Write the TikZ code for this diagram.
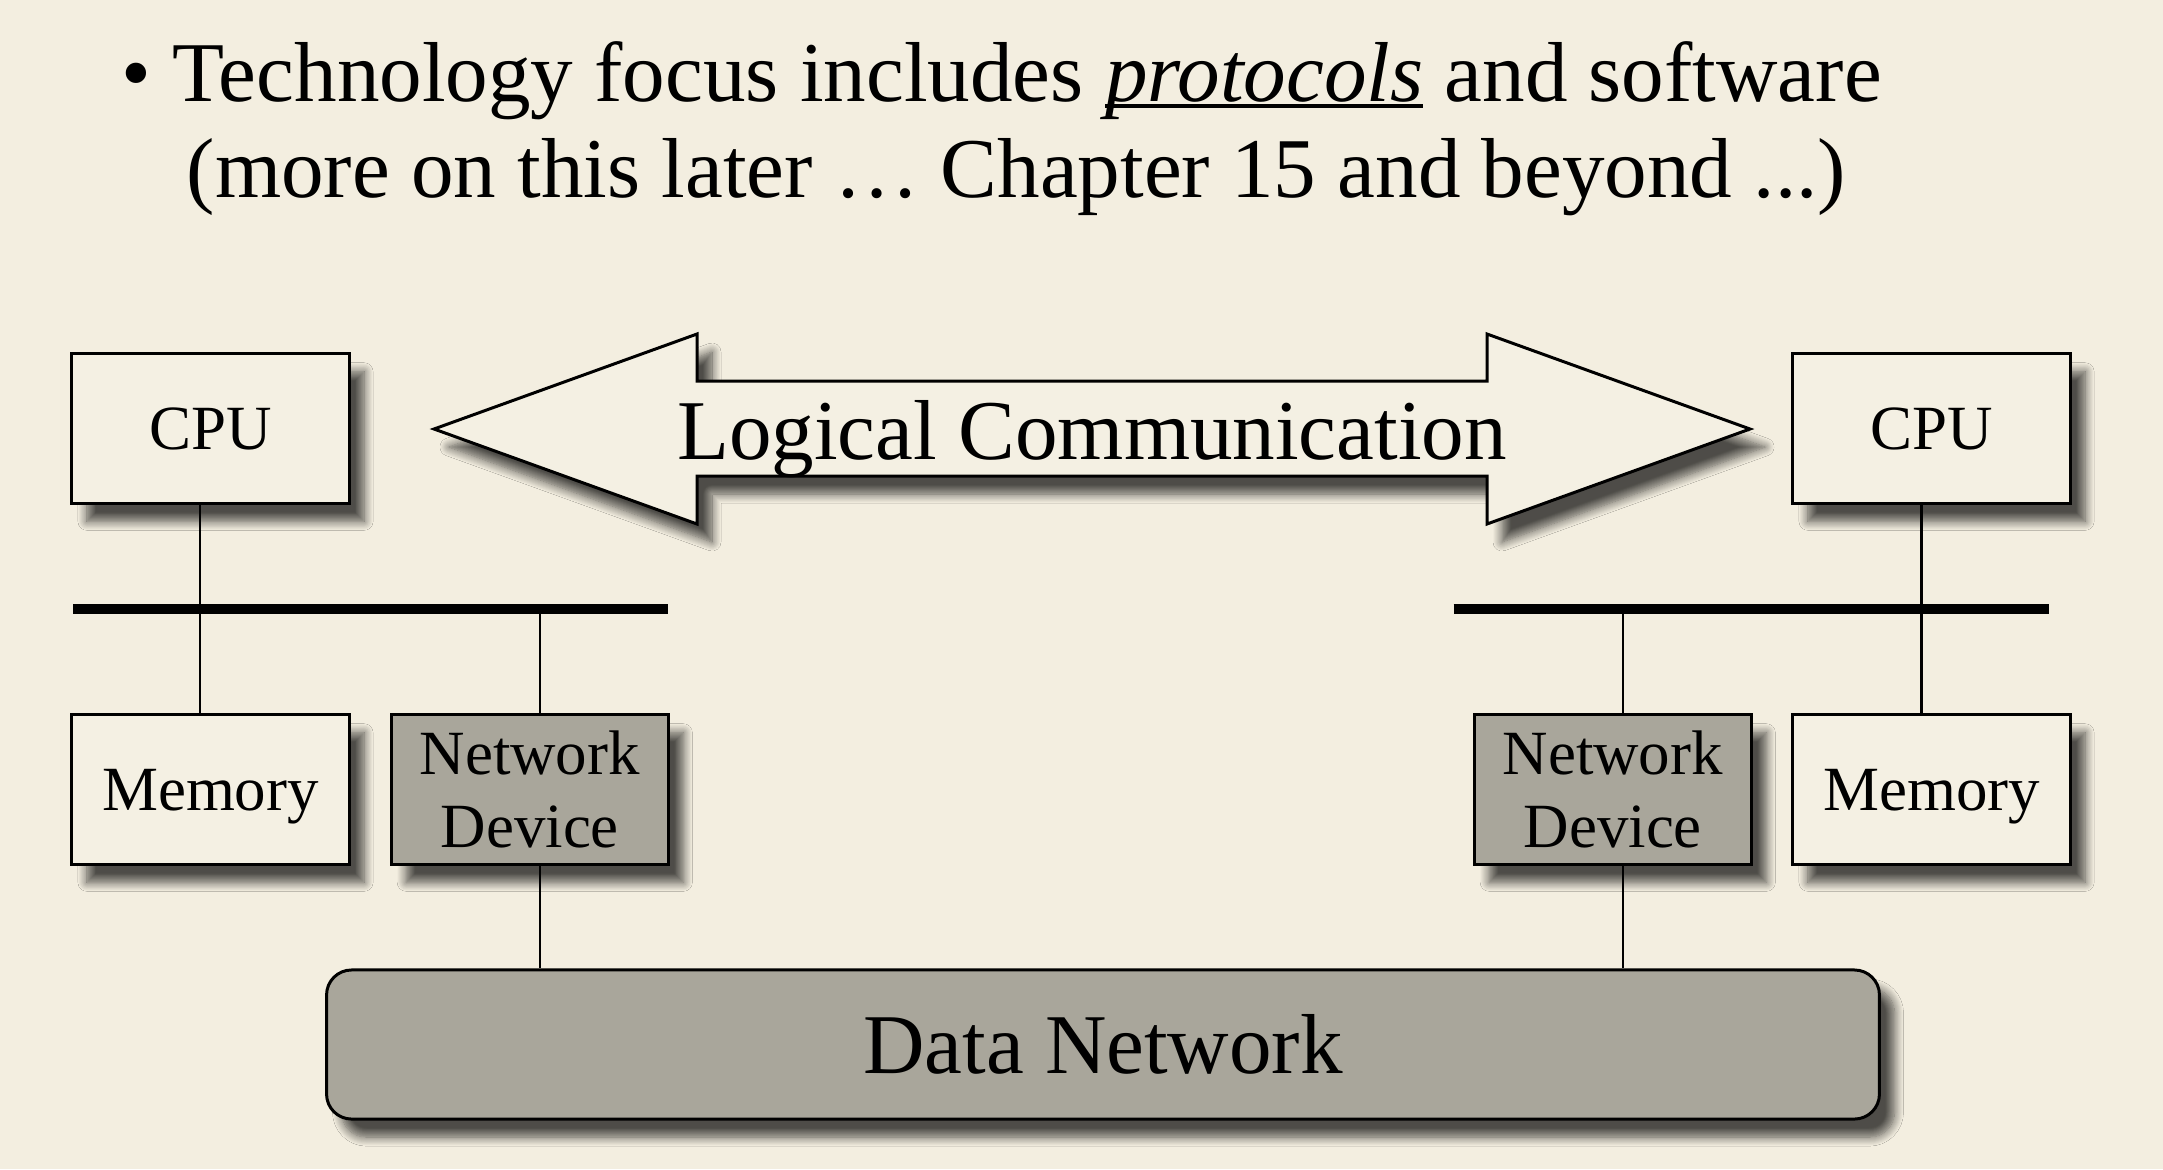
\documentclass[tikz,border=0pt]{standalone}
\usepackage{fontspec}
\setmainfont{Liberation Serif}
\usetikzlibrary{shadows.blur}
\definecolor{bg}{RGB}{243,238,224}
\definecolor{boxfill}{RGB}{244,240,227}
\definecolor{devfill}{RGB}{169,166,155}
\newcommand\myBig{\fontsize{24.2pt}{27.3pt}\selectfont}
\newcommand\mySmall{\fontsize{17.9pt}{20.8pt}\selectfont}
\newcommand\myul[1]{\setbox0\hbox{#1}\rlap{\rule[-0.085em]{\wd0}{0.045em}}\box0\relax}
\tikzset{
  shad/.style={blur shadow={shadow xshift=0.15cm, shadow yshift=-0.18cm, shadow blur radius=0.09cm, shadow opacity=68, shadow blur steps=10}},
  plainbox/.style={draw=black, line width=0.85pt, fill=boxfill, minimum width=2.77cm, minimum height=1.495cm, inner sep=0pt, text depth=0pt, align=center, font=\mySmall, shad},
  devbox/.style={plainbox, fill=devfill},
  netbox/.style={draw=black, line width=0.85pt, fill=devfill, rounded corners=0.25cm, minimum width=15.52cm, minimum height=1.49cm, inner sep=0pt, font=\myBig, shad},
  wire/.style={line width=0.6pt, draw=black},
  busline/.style={line width=2.85pt, draw=black},
  bigarrow/.style={draw=black, line width=0.85pt, fill=boxfill, line join=miter, shad},
}
\begin{document}
\begin{tikzpicture}[x=0.01cm, y=-0.01cm]
\fill[bg] (0,0) rectangle (2163,1169);
\useasboundingbox (0,0) rectangle (2163,1169);

% title
\node[anchor=base west, inner sep=0pt, font=\myBig] (t1) at (121,101) {• Technology focus includes \myul{\textit{protocols}} and software};
\node[anchor=base west, inner sep=0pt, font=\myBig] (t2) at (186,197) {(more on this later … Chapter 15 and beyond ...)};

% logical communication arrow
\path[bigarrow] (434,429) -- (697,334) -- (697,381) -- (1487,381) -- (1487,334) -- (1750,429) -- (1487,524) -- (1487,476) -- (697,476) -- (697,524) -- cycle;
\node[anchor=base, inner sep=0pt, font=\myBig] (logic) at (1092,459) {Logical Communication};

% data network
\node[netbox] (net) at (1103,1044.5) {Data Network};

% left host
\node[plainbox] (cpu1) at (210.5,428.5) {CPU};
\node[plainbox] (mem1) at (210.5,789.5) {Memory};
\node[devbox] (nd1) at (529.75,789.5) {Network\\Device};
\coordinate (bus1a) at (73,609);
\coordinate (bus1b) at (668,609);

% right host
\node[plainbox] (cpu2) at (1931.5,428.5) {CPU};
\node[plainbox] (mem2) at (1931.5,789.5) {Memory};
\node[devbox] (nd2) at (1612.75,789.5) {Network\\Device};
\coordinate (bus2a) at (1453.5,609);
\coordinate (bus2b) at (2048.6,609);

% wires
\draw[wire] ([xshift=-0.105cm]cpu1.south) -- ([xshift=-0.105cm]mem1.north);
\draw[wire] ([xshift=0.1cm]nd1.north) -- ([xshift=0.1cm]nd1.north |- bus1a);
\draw[wire] ([xshift=0.1cm]nd1.south) -- ([xshift=0.1cm]nd1.south |- net.north);
\draw[wire] ([xshift=-0.1cm]cpu2.south) -- ([xshift=-0.1cm]mem2.north);
\draw[wire] ([xshift=0.1cm]nd2.north) -- ([xshift=0.1cm]nd2.north |- bus2a);
\draw[wire] ([xshift=0.1cm]nd2.south) -- ([xshift=0.1cm]nd2.south |- net.north);

% buses
\draw[busline] (bus1a) -- (bus1b);
\draw[busline] (bus2a) -- (bus2b);
\end{tikzpicture}
\end{document}
